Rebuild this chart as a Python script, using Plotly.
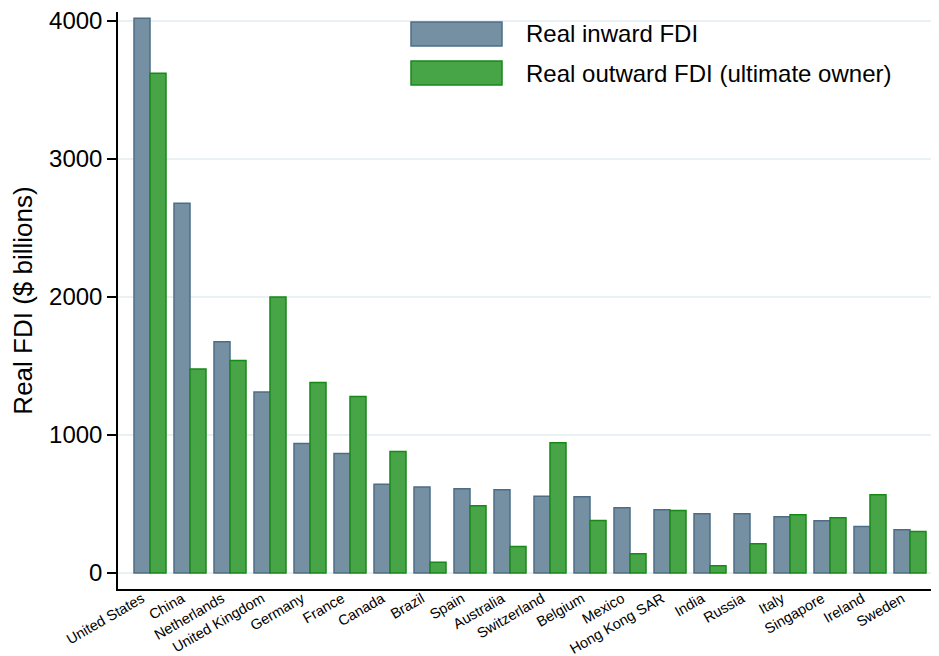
import plotly.graph_objects as go

countries = ["United States", "China", "Netherlands", "United Kingdom", "Germany", "France",
             "Canada", "Brazil", "Spain", "Australia", "Switzerland", "Belgium", "Mexico",
             "Hong Kong SAR", "India", "Russia", "Italy", "Singapore", "Ireland", "Sweden"]
inward = [4020, 2680, 1676, 1312, 938, 866, 643, 623, 611, 604, 556, 553, 473, 459, 430, 430, 408, 379, 336, 314]
outward = [3622, 1478, 1540, 2000, 1380, 1278, 880, 78, 488, 192, 944, 380, 140, 452, 53, 212, 422, 401, 567, 300]
y_ticks = [0, 1000, 2000, 3000, 4000]

inward_name = "Real inward FDI"
outward_name = "Real outward FDI (ultimate owner)"
inward_fill, inward_line = "#7590A3", "#4D6D87"
outward_fill, outward_line = "#47A547", "#178917"
font = "Liberation Sans, Arial, sans-serif"

fig = go.Figure()
fig.add_trace(go.Bar(x=countries, y=inward, name=inward_name, marker=dict(color=inward_fill, line=dict(color=inward_line, width=1.5))))
fig.add_trace(go.Bar(x=countries, y=outward, name=outward_name, marker=dict(color=outward_fill, line=dict(color=outward_line, width=1.5))))

# the page body adds an 8px margin, so the figure is 8px smaller and margins shifted
fig.update_layout(
    width=931, height=648, barmode="group", bargap=0.2, bargroupgap=0,
    showlegend=False, plot_bgcolor="white", paper_bgcolor="white",
    margin=dict(l=110, r=0, t=4, b=67),
    font=dict(family=font, color="black"),
    xaxis=dict(range=[-0.8, 19.725], tickangle=-30, tickfont=dict(size=14.5), showline=True,
               linecolor="black", linewidth=1.5, showgrid=False, ticks="", automargin=False,
               ticklabelshift=-8, ticklabelstandoff=-6, ticklabeloverflow="allow"),
    yaxis=dict(range=[-116, 4065], tickvals=y_ticks, tickfont=dict(size=24), showline=True,
               linecolor="black", linewidth=1.5, ticks="outside", ticklen=9, tickwidth=1.5, tickcolor="black",
               gridcolor="#EAF1F4", gridwidth=2, zeroline=False, automargin=False, ticklabeloverflow="allow",
               title=dict(text="Real FDI ($ billions)", font=dict(size=26), standoff=15)),
)

# legend drawn as large swatches like the original
for i, (name, fill, line) in enumerate([(inward_name, inward_fill, inward_line), (outward_name, outward_fill, outward_line)]):
    y0 = 1 - (10 + 39 * i) / 577
    y1 = y0 - 24 / 577
    fig.add_shape(type="rect", xref="paper", yref="paper", x0=(411 - 118) / 821, x1=(502 - 118) / 821,
                  y0=y1, y1=y0, fillcolor=fill, line=dict(color=line, width=1.5))
    fig.add_annotation(xref="paper", yref="paper", x=(524 - 118) / 821, y=(y0 + y1) / 2, text=name,
                       showarrow=False, xanchor="left", yanchor="middle", font=dict(size=24, family=font))

fig.write_html("out.html")
